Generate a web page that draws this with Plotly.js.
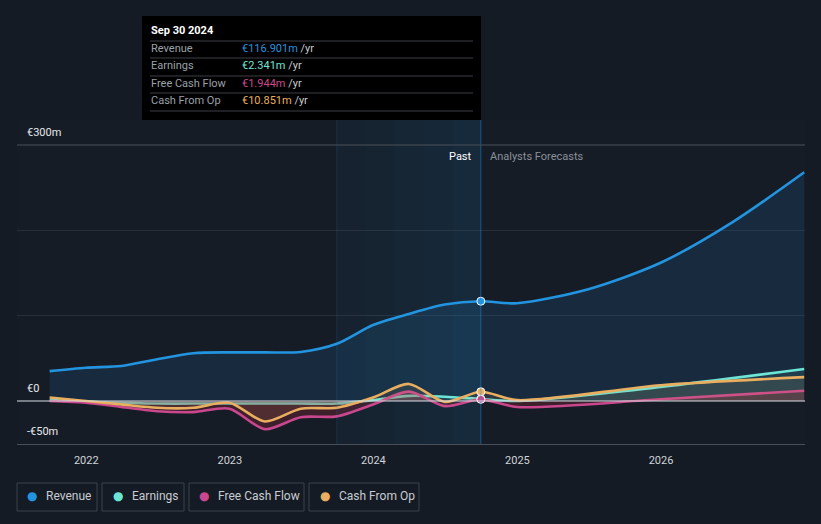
<!DOCTYPE html>
<html><head><meta charset="utf-8">
<script src="https://cdn.plot.ly/plotly-3.0.1.min.js"></script>
<style>html,body{margin:0;padding:0;background:#151b24;}#chart{width:821px;height:524px;}</style>
</head><body><div id="chart"></div>
<script>
// ---- data (values in € millions) ----
const pastDates = ["2021-09-30","2021-12-31","2022-03-31","2022-06-30","2022-09-30","2022-12-31","2023-03-31","2023-06-30","2023-09-30","2023-12-31","2024-03-31","2024-06-30","2024-09-30"];
const revenuePast  = [35, 39, 41, 49, 56, 57, 57, 57.5, 67, 89, 102, 113, 116.901];
const earningsPast = [1, -1, -2, -3, -3, -3, -3, -3, -3, 1, 6, 5, 2.341];
const fcfPast      = [0, -2, -7, -12, -13, -9, -33, -19, -18, -4, 11, -6, 1.944];
const cfoPast      = [4, 0, -4, -8, -8, -2, -24, -9, -8, 4, 20, -1, 10.851];

const revForecastDates = ["2024-12-31","2025-06-30","2025-12-31","2026-06-30","2026-12-31"];
const revenueForecast  = [114.5, 131, 162, 209, 268];
const fcDates          = ["2024-12-31","2025-12-31","2026-12-31"];
const earningsForecast = [0, 16.5, 37.5];
const fcfForecast      = [-7, 2, 12];
const cfoForecast      = [1, 18.5, 28];

const xTicks = ["2022-01-01","2023-01-01","2024-01-01","2025-01-01","2026-01-01"];
const xTickText = ["2022","2023","2024","2025","2026"];
const yGrid = [100, 200];
const splitDate = "2024-09-30";
const bandStart = "2023-09-30";

const tipDate = "Sep 30 2024";
const names = ["Revenue","Earnings","Free Cash Flow","Cash From Op"];
const colors = ["#2394df","#6ce5d6","#c9478c","#e9ae5f"];
const tipValues = ["€116.901m","€2.341m","€1.944m","€10.851m"];

// ---- geometry helpers (pixel -> paper) ----
const L=17, R=16, T=120, B=80, W=821, H=524;
const pw=W-L-R, ph=H-T-B;
const px = x => (x-L)/pw;
const py = y => (H-B-y)/ph;

const fillCols = ["rgba(35,148,223,0.13)","rgba(108,229,214,0.10)","rgba(170,40,60,0.28)","rgba(233,174,95,0.10)"];
const series = [
  [pastDates.concat(revForecastDates), revenuePast.concat(revenueForecast)],
  [pastDates.concat(fcDates), earningsPast.concat(earningsForecast)],
  [pastDates.concat(fcDates), fcfPast.concat(fcfForecast)],
  [pastDates.concat(fcDates), cfoPast.concat(cfoForecast)]
];
const lastIdx = pastDates.length-1;
const pastLast = [revenuePast[lastIdx], earningsPast[lastIdx], fcfPast[lastIdx], cfoPast[lastIdx]];

const traces = [];
[0,1,2,3].forEach(i => {
  traces.push({x: series[i][0], y: series[i][1], type:'scatter', mode:'lines',
    line:{color:colors[i], width:2.6, shape:'spline', smoothing:0.8},
    fill:'tozeroy', fillcolor:fillCols[i], hoverinfo:'skip', showlegend:false});
});
[1,0,3,2].forEach(i => {
  traces.push({x:[splitDate], y:[pastLast[i]], type:'scatter', mode:'markers',
    marker:{color:colors[i], size:8, line:{color:'#ffffff', width:1}}, hoverinfo:'skip', showlegend:false});
});

const shapes = [];
// past band gradient (overlapping rects)
const t0 = new Date(bandStart).getTime(), t1 = new Date(splitDate).getTime();
shapes.push({type:'rect', xref:'x', yref:'paper', x0:bandStart, x1:splitDate, y0:0, y1:1, fillcolor:'rgba(35,148,223,0.05)', line:{width:0}, layer:'below'});
const N = 5;
for (let k=1;k<N;k++){
  shapes.push({type:'rect', xref:'x', yref:'paper', x0:t0+(t1-t0)*k/N, x1:t1, y0:0, y1:1,
    fillcolor:'rgba(35,148,223,0.022)', line:{width:0}, layer:'below'});
}
shapes.push({type:'line', xref:'x', yref:'paper', x0:bandStart, x1:bandStart, y0:0, y1:1, line:{color:'rgba(35,148,223,0.18)', width:1}});
shapes.push({type:'line', xref:'x', yref:'paper', x0:splitDate, x1:splitDate, y0:0, y1:1, line:{color:'rgba(35,148,223,0.5)', width:1}});
shapes.push({type:'line', xref:'paper', yref:'y', x0:0, x1:1, y0:300, y1:300, line:{color:'#4a5059', width:1}});
shapes.push({type:'line', xref:'paper', yref:'y', x0:0, x1:1, y0:0, y1:0, line:{color:'#d8dde3', width:1.2}, layer:'above'});
// tooltip box
shapes.push({type:'rect', xref:'paper', yref:'paper', x0:px(142), x1:px(481), y0:py(120), y1:py(16), fillcolor:'#000000', line:{width:0}});
[41,58,76,93,111].forEach(yy => shapes.push({type:'line', xref:'paper', yref:'paper', x0:px(150), x1:px(473), y0:py(yy), y1:py(yy), line:{color:'#3a3f46', width:1}}));
// legend boxes
const legBoxes = [[17,97],[102,184],[189,304],[309,419]];
legBoxes.forEach(b => shapes.push({type:'rect', xref:'paper', yref:'paper', x0:px(b[0]), x1:px(b[1]), y0:py(511), y1:py(483), line:{color:'#3b424d', width:1}, fillcolor:'rgba(0,0,0,0)'}));

const F = "Roboto, 'Open Sans', sans-serif";
const ann = [];
ann.push({xref:'paper', yref:'y', x:0, y:300, xshift:8, yshift:13, xanchor:'left', yanchor:'middle', text:'€300m', showarrow:false, font:{family:F, size:11, color:'#e6e8eb'}});
ann.push({xref:'paper', yref:'y', x:0, y:0, xshift:8, yshift:12, xanchor:'left', yanchor:'middle', text:'€0', showarrow:false, font:{family:F, size:11, color:'#e6e8eb'}});
ann.push({xref:'paper', yref:'y', x:0, y:-50, xshift:8, yshift:12, xanchor:'left', yanchor:'middle', text:'-€50m', showarrow:false, font:{family:F, size:11, color:'#e6e8eb'}});
ann.push({xref:'x', yref:'paper', x:splitDate, y:py(156), xshift:-7, xanchor:'right', yanchor:'middle', text:'Past', showarrow:false, font:{family:F, size:11, color:'#ffffff'}});
ann.push({xref:'x', yref:'paper', x:splitDate, y:py(156), xshift:7, xanchor:'left', yanchor:'middle', text:'Analysts Forecasts', showarrow:false, font:{family:F, size:11, color:'#8a9099'}});
ann.push({xref:'paper', yref:'paper', x:px(149), y:py(31), xanchor:'left', yanchor:'middle', text:'<b>'+tipDate+'</b>', showarrow:false, font:{family:F, size:11, color:'#ffffff'}});
const rowY = [49,66,84,101];
names.forEach((n,i) => {
  ann.push({xref:'paper', yref:'paper', x:px(149), y:py(rowY[i]), xanchor:'left', yanchor:'middle', text:n, showarrow:false, font:{family:F, size:11, color:'#9aa0a8'}});
  ann.push({xref:'paper', yref:'paper', x:px(240), y:py(rowY[i]), xanchor:'left', yanchor:'middle', text:`<span style="color:${colors[i]}">${tipValues[i]}</span> <span style="color:#c8ccd1">/yr</span>`, showarrow:false, font:{family:F, size:11, color:colors[i]}});
});
const legDotX = [32,118,204,325];
legBoxes.forEach((b,i) => {
  ann.push({xref:'paper', yref:'paper', x:px(legDotX[i]), y:py(496), xanchor:'center', yanchor:'middle', text:'●', showarrow:false, font:{family:'DejaVu Sans', size:12, color:colors[i]}});
  ann.push({xref:'paper', yref:'paper', x:px(legDotX[i]+12), y:py(496), xanchor:'left', yanchor:'middle', text:names[i], showarrow:false, font:{family:F, size:12, color:'#c8ccd1'}});
});

const layout = {
  width:W, height:H, margin:{l:L, r:R, t:T, b:B},
  paper_bgcolor:'#151b24', plot_bgcolor:'#161c26',
  showlegend:false,
  xaxis:{type:'date', range:['2021-07-09','2027-01-02'], tickvals:xTicks, ticktext:xTickText,
    showgrid:false, zeroline:false, showline:true, linecolor:'#4a5059', linewidth:1,
    ticks:'', tickfont:{family:F, size:11, color:'#d0d4d9'}, ticklabelstandoff:6},
  yaxis:{range:[-50.4, 329.3], tickvals:yGrid, showticklabels:false, showgrid:true,
    gridcolor:'rgba(255,255,255,0.08)', zeroline:false, showline:false, fixedrange:true},
  shapes:shapes, annotations:ann, hovermode:false
};
Plotly.newPlot('chart', traces, layout, {displayModeBar:false, staticPlot:true});
</script></body></html>
